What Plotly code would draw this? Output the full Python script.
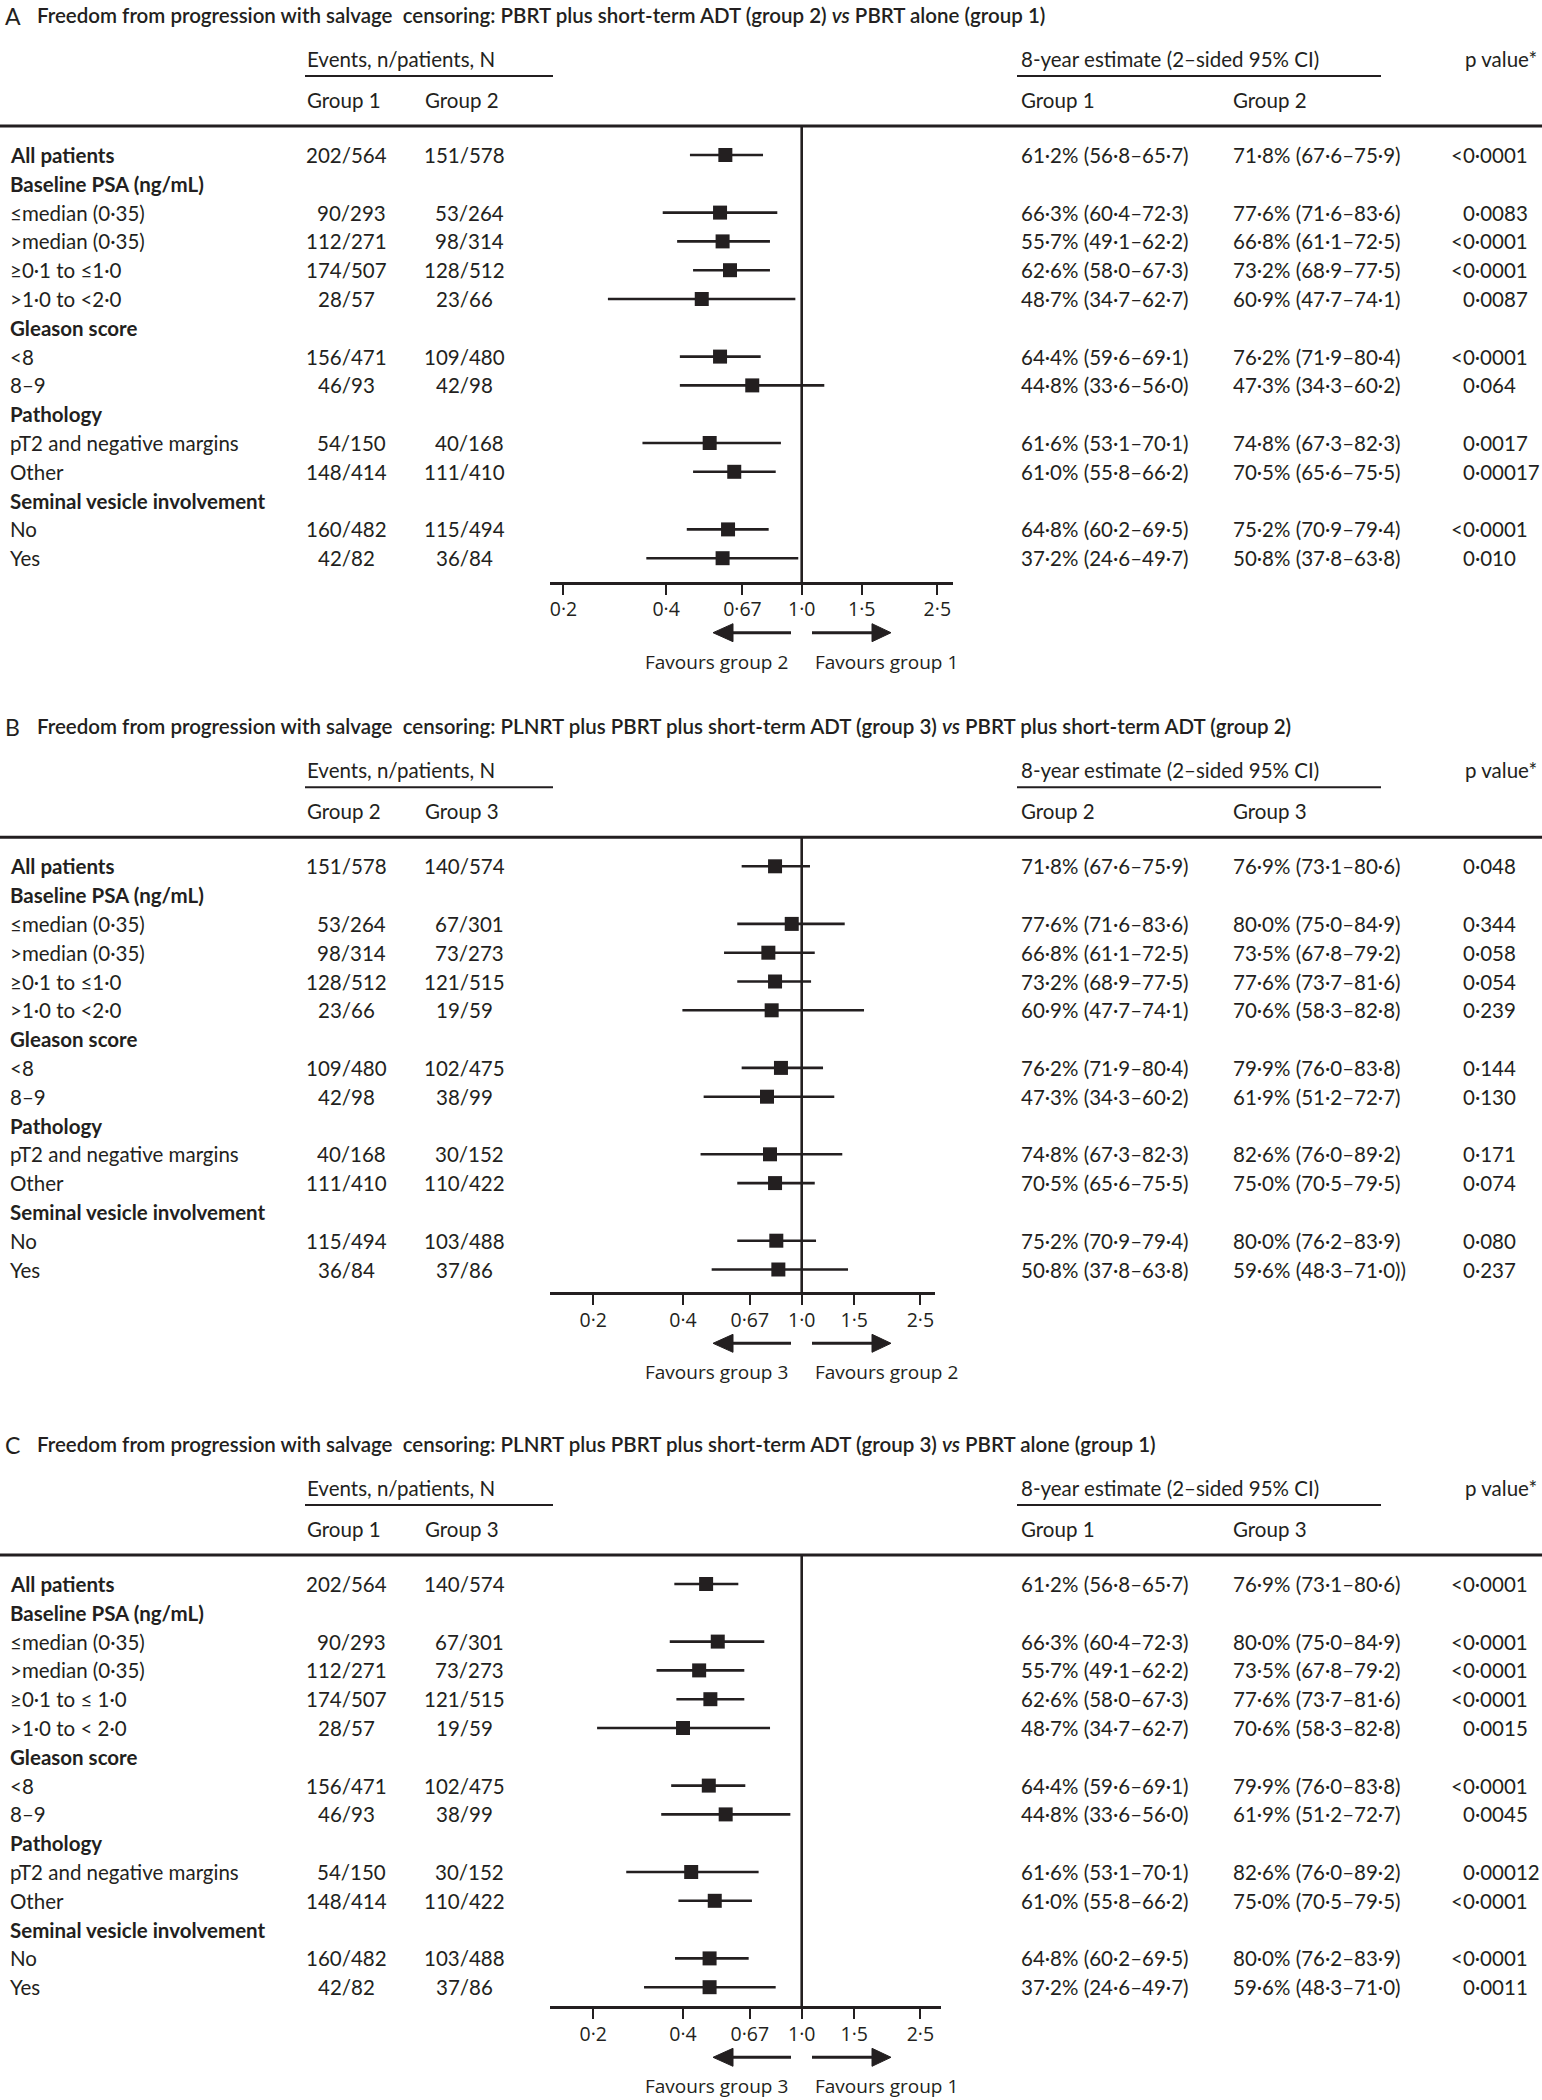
import math
import plotly.graph_objects as go

W, H = 1542, 2100
INK = "#231f20"
BODY = "Lato, 'Noto Sans', sans-serif"
AXF = "'Open Sans', 'Noto Sans', sans-serif"

# ---------------- data ----------------
LABELS_AB = ["All patients", "Baseline PSA (ng/mL)", "≤median (0·35)", ">median (0·35)",
             "≥0·1 to ≤1·0", ">1·0 to <2·0", "Gleason score", "<8", "8–9", "Pathology",
             "pT2 and negative margins", "Other", "Seminal vesicle involvement", "No", "Yes"]
LABELS_C = ["All patients", "Baseline PSA (ng/mL)", "≤median (0·35)", ">median (0·35)",
            "≥0·1 to ≤ 1·0", ">1·0 to < 2·0", "Gleason score", "<8", "8–9", "Pathology",
            "pT2 and negative margins", "Other", "Seminal vesicle involvement", "No", "Yes"]
BOLD_ROWS = [0, 1, 6, 9, 12]
DATA_ROWS = [0, 2, 3, 4, 5, 7, 8, 10, 11, 13, 14]

ev_g1 = ["202/564", "90/293", "112/271", "174/507", "28/57", "156/471", "46/93", "54/150", "148/414", "160/482", "42/82"]
ev_g2 = ["151/578", "53/264", "98/314", "128/512", "23/66", "109/480", "42/98", "40/168", "111/410", "115/494", "36/84"]
ev_g3 = ["140/574", "67/301", "73/273", "121/515", "19/59", "102/475", "38/99", "30/152", "110/422", "103/488", "37/86"]

est_g1 = ["61·2% (56·8–65·7)", "66·3% (60·4–72·3)", "55·7% (49·1–62·2)", "62·6% (58·0–67·3)", "48·7% (34·7–62·7)",
          "64·4% (59·6–69·1)", "44·8% (33·6–56·0)", "61·6% (53·1–70·1)", "61·0% (55·8–66·2)", "64·8% (60·2–69·5)",
          "37·2% (24·6–49·7)"]
est_g2 = ["71·8% (67·6–75·9)", "77·6% (71·6–83·6)", "66·8% (61·1–72·5)", "73·2% (68·9–77·5)", "60·9% (47·7–74·1)",
          "76·2% (71·9–80·4)", "47·3% (34·3–60·2)", "74·8% (67·3–82·3)", "70·5% (65·6–75·5)", "75·2% (70·9–79·4)",
          "50·8% (37·8–63·8)"]
est_g3_b = ["76·9% (73·1–80·6)", "80·0% (75·0–84·9)", "73·5% (67·8–79·2)", "77·6% (73·7–81·6)", "70·6% (58·3–82·8)",
            "79·9% (76·0–83·8)", "61·9% (51·2–72·7)", "82·6% (76·0–89·2)", "75·0% (70·5–79·5)", "80·0% (76·2–83·9)",
            "59·6% (48·3–71·0))"]
est_g3_c = ["76·9% (73·1–80·6)", "80·0% (75·0–84·9)", "73·5% (67·8–79·2)", "77·6% (73·7–81·6)", "70·6% (58·3–82·8)",
            "79·9% (76·0–83·8)", "61·9% (51·2–72·7)", "82·6% (76·0–89·2)", "75·0% (70·5–79·5)", "80·0% (76·2–83·9)",
            "59·6% (48·3–71·0)"]

p_a = ["<0·0001", "0·0083", "<0·0001", "<0·0001", "0·0087", "<0·0001", "0·064", "0·0017", "0·00017", "<0·0001", "0·010"]
p_b = ["0·048", "0·344", "0·058", "0·054", "0·239", "0·144", "0·130", "0·171", "0·074", "0·080", "0·237"]
p_c = ["<0·0001", "<0·0001", "<0·0001", "<0·0001", "0·0015", "<0·0001", "0·0045", "0·00012", "<0·0001", "<0·0001", "0·0011"]

hr_a = [0.597, 0.576, 0.586, 0.616, 0.509, 0.576, 0.716, 0.537, 0.634, 0.608, 0.586]
lo_a = [0.470, 0.391, 0.431, 0.480, 0.270, 0.439, 0.439, 0.341, 0.480, 0.460, 0.350]
hi_a = [0.770, 0.848, 0.807, 0.807, 0.958, 0.758, 1.165, 0.869, 0.839, 0.800, 0.977]

hr_b = [0.814, 0.926, 0.773, 0.814, 0.793, 0.852, 0.765, 0.783, 0.814, 0.822, 0.835]
lo_b = [0.629, 0.608, 0.549, 0.608, 0.398, 0.629, 0.469, 0.458, 0.608, 0.608, 0.499]
hi_b = [1.066, 1.394, 1.106, 1.075, 1.618, 1.179, 1.286, 1.368, 1.106, 1.117, 1.430]

hr_c = [0.478, 0.523, 0.453, 0.494, 0.400, 0.488, 0.556, 0.426, 0.511, 0.491, 0.491]
lo_c = [0.374, 0.361, 0.326, 0.380, 0.206, 0.365, 0.338, 0.258, 0.386, 0.376, 0.296]
hi_c = [0.613, 0.749, 0.642, 0.642, 0.783, 0.647, 0.916, 0.717, 0.681, 0.664, 0.818]

TICK_VALS = [0.2, 0.4, 0.67, 1.0, 1.5, 2.5]
TICK_TEXT = ["0·2", "0·4", "0·67", "1·0", "1·5", "2·5"]

TITLE_A = "Freedom from progression with salvage\u00a0 censoring: PBRT plus short-term ADT (group 2) <i>vs</i> PBRT alone (group 1)"
TITLE_B = "Freedom from progression with salvage\u00a0 censoring: PLNRT plus PBRT plus short-term ADT (group 3) <i>vs</i> PBRT plus short-term ADT (group 2)"
TITLE_C = "Freedom from progression with salvage\u00a0 censoring: PLNRT plus PBRT plus short-term ADT (group 3) <i>vs</i> PBRT alone (group 1)"

panels = [
    dict(letter="A", title=TITLE_A, labels=LABELS_AB, groups=("Group 1", "Group 2"),
         ev=(ev_g1, ev_g2), est=(est_g1, est_g2), p=p_a, hr=hr_a, lo=lo_a, hi=hi_a,
         fav=("Favours group 2", "Favours group 1"),
         rule=126.0, axis=582.7, xr=(550, 953.3), ppd=340.8),
    dict(letter="B", title=TITLE_B, labels=LABELS_AB, groups=("Group 2", "Group 3"),
         ev=(ev_g2, ev_g3), est=(est_g2, est_g3_b), p=p_b, hr=hr_b, lo=lo_b, hi=hi_b,
         fav=("Favours group 3", "Favours group 2"),
         rule=837.3, axis=1293.3, xr=(550, 935.0), ppd=298.2),
    dict(letter="C", title=TITLE_C, labels=LABELS_C, groups=("Group 1", "Group 3"),
         ev=(ev_g1, ev_g3), est=(est_g1, est_g3_c), p=p_c, hr=hr_c, lo=lo_c, hi=hi_c,
         fav=("Favours group 3", "Favours group 1"),
         rule=1555.0, axis=2007.3, xr=(550, 940.7), ppd=298.2),
]

# ---------------- layout helpers ----------------
X_ONE = 801.7          # pixel position of 1·0 on every forest axis
PITCH = 28.8
FS = 20.5
DIGIT = 0.58 * FS

annotations = []
shapes = []


def T(x, y, s, anchor="left", size=FS, family=BODY, weight="normal", xshift=0, yshift=0):
    annotations.append(dict(x=x, y=y, xref="x", yref="y", text=s, showarrow=False,
                            xanchor=anchor, yanchor="middle", xshift=xshift, yshift=yshift,
                            font=dict(family=family, size=size, color=INK, weight=weight)))


def hline(x0, x1, y, w):
    shapes.append(dict(type="line", xref="x", yref="y", x0=x0, x1=x1, y0=y, y1=y,
                       line=dict(color=INK, width=w)))


fig = go.Figure()
layout_axes = {}

for k, P in enumerate(panels):
    R = P["rule"]
    ax_id = k + 2
    xa = f"x{ax_id}"
    # header
    T(3, R - 110, P["letter"], size=23)
    T(35, R - 111, P["title"], size=FS, weight=600)
    T(305, R - 67, "Events, n/patients, N")
    hline(305, 553, R - 50, 2)
    T(1019, R - 67, "8-year estimate (2–sided 95% CI)")
    hline(1017, 1381, R - 50, 2)
    T(1539, R - 67, "p value*", anchor="right")
    T(305, R - 26, P["groups"][0])
    T(423, R - 26, P["groups"][1])
    T(1019, R - 26, P["groups"][0])
    T(1231, R - 26, P["groups"][1])
    hline(0, W, R, 3)

    first = R + 29.0
    ys = [first + i * PITCH for i in range(len(P["labels"]))]
    for i, lab in enumerate(P["labels"]):
        T(8, ys[i], f"<b>{lab}</b>" if i in BOLD_ROWS else lab)

    dys = [ys[i] for i in DATA_ROWS]
    for j, y in enumerate(dys):
        for gi, cx in enumerate((346, 464)):
            s = P["ev"][gi][j]
            num, den = s.split("/")
            T(cx, y, s, anchor="center", xshift=(len(den) - len(num)) * DIGIT / 2)
        T(1019, y, P["est"][0][j])
        T(1231, y, P["est"][1][j])
        pv = P["p"][j]
        if pv.startswith("<"):
            T(1461, y, pv, xshift=-12)
        else:
            T(1461, y, pv)

    # forest traces
    xs, yl = [], []
    for j, y in enumerate(dys):
        xs += [P["lo"][j], P["hi"][j], None]
        yl += [y, y, None]
    fig.add_trace(go.Scatter(x=[1, 1], y=[R, P["axis"]], xaxis=xa, yaxis="y", mode="lines",
                             line=dict(color=INK, width=2.6), hoverinfo="skip", showlegend=False))
    fig.add_trace(go.Scatter(x=xs, y=yl, xaxis=xa, yaxis="y", mode="lines",
                             line=dict(color=INK, width=2.6), hoverinfo="skip", showlegend=False))
    fig.add_trace(go.Scatter(x=P["hr"], y=dys, xaxis=xa, yaxis="y", mode="markers",
                             marker=dict(symbol="square", size=14, color=INK, line=dict(width=0)),
                             showlegend=False, cliponaxis=False))

    x0, x1 = P["xr"]
    rng = [-(X_ONE - x0) / P["ppd"], (x1 - X_ONE) / P["ppd"]]
    layout_axes[f"xaxis{ax_id}"] = dict(
        type="log", domain=[x0 / W, x1 / W], range=rng, anchor="free",
        position=1 - P["axis"] / H, showline=True, linecolor=INK, linewidth=2.6,
        ticks="outside", ticklen=10, tickwidth=2.4, tickcolor=INK,
        tickvals=TICK_VALS, ticktext=TICK_TEXT, ticklabelstandoff=-2,
        tickfont=dict(family=AXF, size=19.5, color=INK),
        showgrid=False, zeroline=False, fixedrange=True)

    # arrows and favour labels
    ay = P["axis"] + 50
    hline(733, 791, ay, 3)
    shapes.append(dict(type="path", xref="x", yref="y",
                       path=f"M 713,{ay} L 733,{ay - 9} L 733,{ay + 9} Z",
                       fillcolor=INK, line=dict(color=INK, width=1)))
    hline(812, 872, ay, 3)
    shapes.append(dict(type="path", xref="x", yref="y",
                       path=f"M 891,{ay} L 872,{ay - 9} L 872,{ay + 9} Z",
                       fillcolor=INK, line=dict(color=INK, width=1)))
    T(790, P["axis"] + 79, P["fav"][0], anchor="right", family=AXF, size=19)
    T(813, P["axis"] + 79, P["fav"][1], anchor="left", family=AXF, size=19)

fig.update_layout(
    width=W, height=H, margin=dict(l=0, r=0, t=0, b=0),
    paper_bgcolor="white", plot_bgcolor="rgba(0,0,0,0)",
    xaxis=dict(range=[0, W], domain=[0, 1], visible=False, fixedrange=True),
    yaxis=dict(range=[H, 0], domain=[0, 1], visible=False, fixedrange=True),
    annotations=annotations, shapes=shapes, showlegend=False,
    **layout_axes,
)

fig.write_html("out.html", config={"displayModeBar": False},
               post_script="document.body.style.margin='0';document.body.style.padding='0';")
